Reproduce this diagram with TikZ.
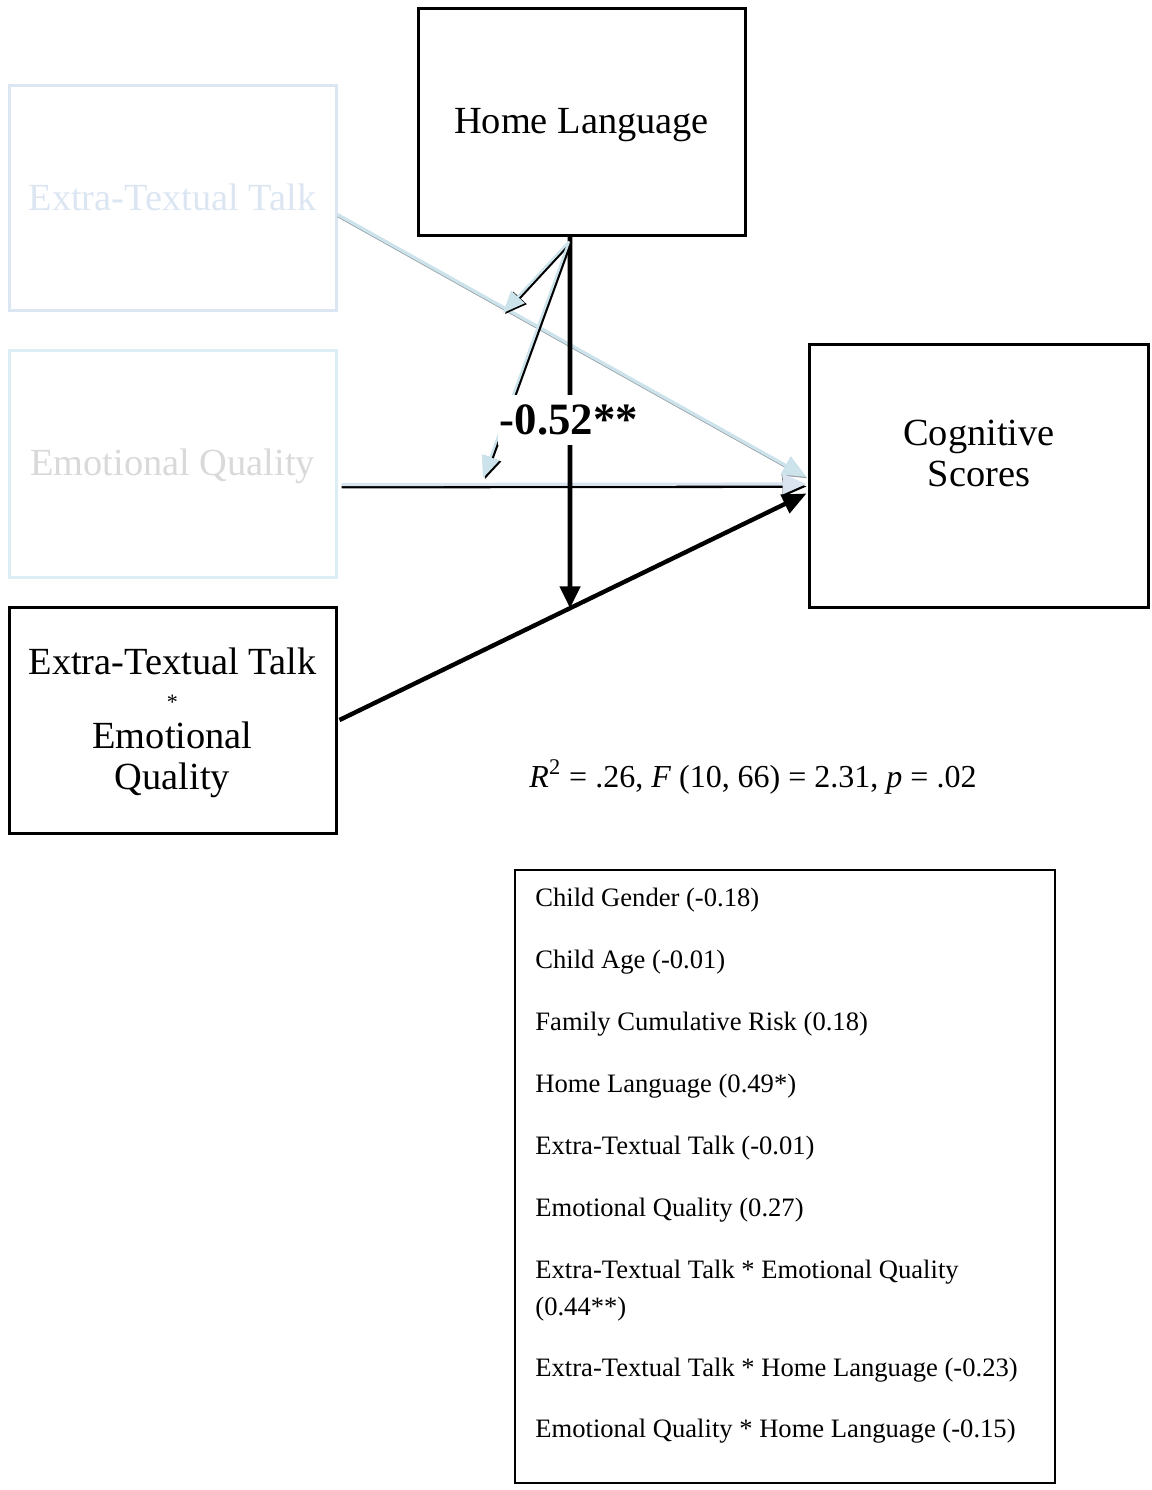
\documentclass[tikz,border=0pt]{standalone}
\usepackage{fontspec}
\setmainfont{Liberation Serif}
\usetikzlibrary{arrows.meta,calc}
\definecolor{fadeblue}{RGB}{220,230,242}
\definecolor{fadecyan}{RGB}{219,238,244}
\definecolor{fadegray}{RGB}{217,217,217}
\definecolor{pathblue}{RGB}{205,227,236}
\definecolor{pathlav}{RGB}{218,228,240}
\definecolor{shade}{RGB}{60,60,60}
\definecolor{softshade}{RGB}{150,160,165}
\begin{document}
\begin{tikzpicture}[x=0.5pt,y=-0.5pt,
  box/.style={draw, line width=1.5pt, inner sep=0pt, minimum width=163.5pt,
    minimum height=113.5pt, align=center, font=\fontsize{19.2}{20.5}\selectfont},
  plain/.style={inner sep=0pt, align=center, font=\fontsize{19.2}{20.5}\selectfont},
  item/.style={anchor=west, inner sep=0pt, align=left, font=\fontsize{13.3}{18.5}\selectfont},
  bigtip/.style={-{Triangle[length=12pt,width=10pt]}},
  modtip/.style={-{Triangle[length=11pt,width=9pt]}},
  strong/.style={line width=2.4pt, -{Triangle[length=11pt,width=10pt]}},
]
\useasboundingbox (0,0) rectangle (1152,1490);

% predictor and outcome boxes
\node[box] (hl) at (581.5,121.5) {};
\node[plain] (hltext) at (581.5,125) {Home Language};
\node[box, draw=fadeblue, text=fadeblue, minimum height=112.5pt] (et) at (172.5,197.5) {Extra-Textual Talk};
\node[box, draw=fadecyan] (eq) at (172.5,463.5) {};
\node[plain, text=fadegray] (eqtext) at (172.5,466) {Emotional Quality};
\node[box, minimum height=113pt] (ia) at (172.5,720) {};
\node[plain] (iatext) at (172.5,723) {Extra-Textual Talk\\[-3pt]{\fontsize{11}{11}\selectfont *}\\[-1pt]Emotional\\Quality};
\node[box, minimum width=169.5pt, minimum height=131.5pt] (cs) at (978.5,475.5) {};
\node[plain] (cstext) at (979,453) {Cognitive\\Scores};

% end points of the paths
\coordinate (etA) at ($(et.east)+(0,17)$);
\coordinate (etB) at ($(cs.west)+(-1,1.5)$);
\coordinate (eqA) at ($(eq.east)+(4,21)$);
\coordinate (eqB) at ($(cs.west)+(-1,8.5)$);
\coordinate (iaA) at ($(ia.east)+(2,0)$);
\coordinate (iaB) at ($(cs.west)+(-1,18)$);
\coordinate (hlfoot) at ($(hl.south)+(-11.5,0)$);
\coordinate (hlmod) at ($(hl.south)+(-12.5,5)$);
\coordinate (hit) at (intersection of iaA--iaB and hlfoot--{$(hlfoot)+(0,400)$});
\coordinate (m1) at (503,313);
\coordinate (m2) at (483,478);

% direct paths into the outcome (light paths carry a dark edge)
\draw[softshade, line width=1.6pt, bigtip] ($(etA)+(0.5,1.2)$) -- ($(etB)+(0.5,1.2)$);
\draw[pathblue, line width=1.6pt, bigtip] (etA) -- (etB);
\draw[shade, line width=1.4pt, bigtip] ($(eqA)+(0,2.5)$) -- ($(eqB)+(0,2.5)$);
\draw[pathlav, line width=1.6pt, bigtip] (eqA) -- (eqB);
\draw[line width=2.2pt, bigtip] (iaA) -- (iaB);

% moderation by home language
\draw[strong] (hlfoot) -- (hit);
\draw[shade, line width=1.2pt, modtip] ($(hlmod)+(2,1)$) -- ($(m1)+(2,1)$);
\draw[pathblue, line width=1.2pt, modtip] (hlmod) -- (m1);
\draw[shade, line width=1.2pt, modtip] ($(hlmod)+(2,1)$) -- ($(m2)+(2,1)$);
\draw[pathblue, line width=1.2pt, modtip] (hlmod) -- (m2);
\node[fill=white, inner xsep=1pt, inner ysep=5pt, font=\fontsize{22.4}{24}\selectfont\bfseries] (coef) at (569,420) {-0.52**};

% model fit
\node[inner sep=0pt, font=\fontsize{16}{18}\selectfont] (fit) at (753,777)
  {\textit{R}\textsuperscript{2} = .26, \textit{F} (10, 66) = 2.31, \textit{p} = .02};

% covariates
\node[draw, line width=1pt, inner sep=0pt, minimum width=270pt, minimum height=306.5pt] (cov) at (785,1176.5) {};
\node[item] (c1) at (535,900) {Child Gender (-0.18)};
\node[item] (c2) at (535,962) {Child Age (-0.01)};
\node[item] (c3) at (535,1024) {Family Cumulative Risk (0.18)};
\node[item] (c4) at (535,1086) {Home Language (0.49*)};
\node[item] (c5) at (535,1148) {Extra-Textual Talk (-0.01)};
\node[item] (c6) at (535,1210) {Emotional Quality (0.27)};
\node[item] (c7) at (535,1291) {Extra-Textual Talk * Emotional Quality\\(0.44**)};
\node[item] (c8) at (535,1370) {Extra-Textual Talk * Home Language (-0.23)};
\node[item] (c9) at (535,1431) {Emotional Quality * Home Language (-0.15)};
\end{tikzpicture}
\end{document}
